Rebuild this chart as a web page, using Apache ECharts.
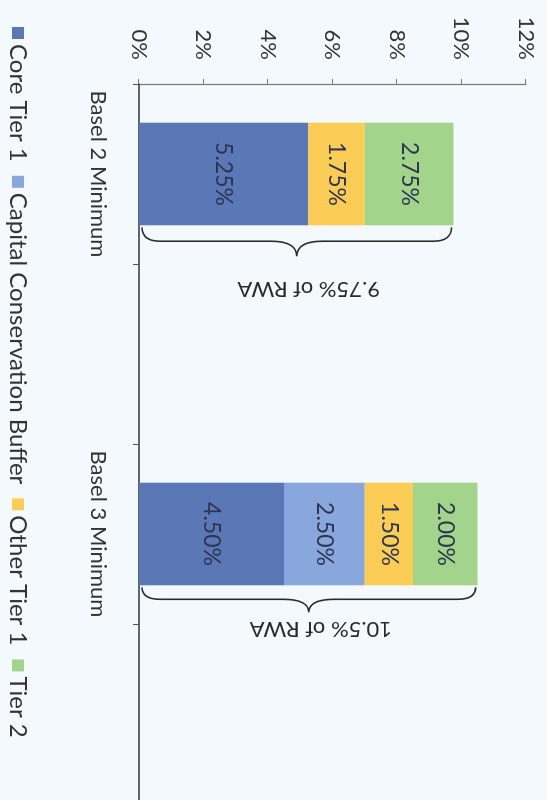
<!DOCTYPE html>
<html>
<head>
<meta charset="utf-8">
<script src="https://cdn.jsdelivr.net/npm/echarts@6/dist/echarts.min.js"></script>
<style>
  html, body { margin: 0; padding: 0; width: 547px; height: 800px; overflow: hidden; background: #f4f9fd; }
  /* the column chart is laid out landscape, then turned a quarter clockwise onto the portrait page */
  #chart { position: absolute; left: 0; top: 0; width: 806px; height: 547px;
           transform-origin: 0 0; transform: translate(547px, 0) rotate(90deg); }
</style>
</head>
<body>
<div id="chart"></div>
<script>
// Minimum capital requirements, % of risk-weighted assets
const categories = ['Basel 2 Minimum', '', 'Basel 3 Minimum', ''];
const coreTier1 = [5.25, null, 4.50, null];
const capitalConservationBuffer = [null, null, 2.50, null];
const otherTier1 = [1.75, null, 1.50, null];
const tier2 = [2.75, null, 2.00, null];
const valueTicks = [0, 2, 4, 6, 8, 10, 12];

const seriesNames = ['Core Tier 1', 'Capital Conservation Buffer', 'Other Tier 1', 'Tier 2'];
const seriesValues = [coreTier1, capitalConservationBuffer, otherTier1, tier2];
const colors = ['#5a77b6', '#87a7dd', '#fbcd57', '#a3d48c'];

// total requirement per column, shown by the brace beside it
const totals = categories.map((_, i) => seriesValues.reduce((s, arr) => s + (arr[i] || 0), 0));
const braceData = totals.map((t, i) => [i, t]).filter(d => d[1] > 0);

// brace look per annotated column: depth of the brace and gap to its caption
const braceStyle = { 0: { depth: 29, textGap: 62 }, 2: { depth: 25, textGap: 42 } };

const FONT = 'Lato, "Open Sans", sans-serif';
const FS = 22;
const BAR_FRACTION = 0.57;

const chart = echarts.init(document.getElementById('chart'), null, { renderer: 'canvas' });

const barSeries = seriesNames.map((name, k) => ({
  name,
  type: 'bar',
  stack: 'req',
  barWidth: (BAR_FRACTION * 100) + '%',
  data: seriesValues[k],
  itemStyle: { color: colors[k] },
  label: {
    show: true,
    position: 'inside',
    fontFamily: FONT,
    fontSize: 23,
    color: '#2d3550',
    formatter: p => (p.value == null ? '' : p.value.toFixed(2) + '%')
  }
}));

function fmtTotal(v) { return String(+v.toFixed(2)); }

const braceSeries = {
  type: 'custom',
  name: 'braces',
  silent: true,
  z: 5,
  clip: false,
  data: braceData,
  encode: { x: 0, y: 1 },
  renderItem: (params, api) => {
    const idx = api.value(0);
    const total = api.value(1);
    const st = braceStyle[idx] || { depth: 27, textGap: 52 };
    const p0 = api.coord([idx, 0]);
    const p1 = api.coord([idx, total]);
    const band = api.size([1, 0])[0];
    const x0 = p0[0] + band * BAR_FRACTION / 2 + 2;
    const yTop = p1[1] + 2;
    const yBot = p0[1] - 3;
    const ym = (yTop + yBot) / 2;
    const w = st.depth;
    const xm = x0 + w * 0.48;
    const r1 = 18, r2 = 26;
    const d = `M${x0},${yTop} Q${xm},${yTop} ${xm},${yTop + r1} L${xm},${ym - r2} ` +
              `Q${xm},${ym} ${x0 + w},${ym} Q${xm},${ym} ${xm},${ym + r2} ` +
              `L${xm},${yBot - r1} Q${xm},${yBot} ${x0},${yBot}`;
    return {
      type: 'group',
      children: [
        { type: 'path', shape: { pathData: d },
          style: { fill: 'none', stroke: '#2b2b2b', lineWidth: 1.6 } },
        { type: 'text', x: x0 + st.textGap, y: ym - 12, rotation: -Math.PI / 2,
          style: { text: fmtTotal(total) + '% of RWA', fill: '#2b2b2b',
                   fontFamily: FONT, fontSize: FS, align: 'center', verticalAlign: 'middle' } }
      ]
    };
  }
};

chart.setOption({
  backgroundColor: '#f4f9fd',
  animation: false,
  color: colors,
  textStyle: { fontFamily: FONT },
  grid: { left: 84, top: 21, width: 720, height: 387, outerBoundsMode: 'none' },
  legend: {
    data: seriesNames,
    left: 22,
    bottom: 1,
    icon: 'rect',
    itemWidth: 12,
    itemHeight: 12,
    itemGap: 14,
    textStyle: { fontFamily: FONT, fontSize: 24, color: '#333' }
  },
  xAxis: {
    type: 'category',
    data: categories,
    boundaryGap: true,
    axisLine: { lineStyle: { color: '#333', width: 1.5 } },
    axisTick: { show: true, length: 6, lineStyle: { color: '#555' } },
    axisLabel: { fontFamily: FONT, fontSize: FS, color: '#333', margin: 30, interval: 0 }
  },
  yAxis: {
    type: 'value',
    min: valueTicks[0],
    max: valueTicks[valueTicks.length - 1],
    interval: valueTicks[1] - valueTicks[0],
    axisLine: { show: true, lineStyle: { color: '#777', width: 1.2 } },
    axisTick: { show: true, length: 5, lineStyle: { color: '#777' } },
    splitLine: { show: false },
    axisLabel: { fontFamily: FONT, fontSize: FS, color: '#333', margin: 24, formatter: '{value}%' }
  },
  series: [...barSeries, braceSeries]
});
</script>
</body>
</html>
